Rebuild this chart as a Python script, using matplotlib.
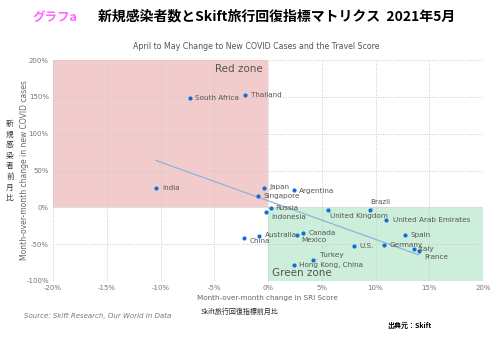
import matplotlib.pyplot as plt
import numpy as np

countries = ['South Africa', 'Thailand', 'India', 'Japan', 'Argentina', 'Singapore',
             'Russia', 'Indonesia', 'United Kingdom', 'Brazil', 'United Arab Emirates',
             'Australia', 'China', 'Canada', 'Mexico', 'U.S.', 'Germany', 'Spain',
             'Italy', 'France', 'Turkey', 'Hong Kong, China']
sri_change = [-7.3, -2.1, -10.4, -0.4, 2.4, -0.9,
              0.3, -0.2, 5.6, 9.5, 11.0,
              -0.8, -2.2, 3.3, 2.7, 8.0, 10.8, 12.7,
              13.6, 14.0, 4.2, 2.4]
case_change = [148, 153, 26, 26, 24, 15,
               -1, -6, -4, -4, -17,
               -39, -42, -35, -37, -53, -51, -38,
               -57, -60, -72, -79]

# label offsets (points) and alignment
label_pos = {
    'South Africa': (4, 0, 'left'), 'Thailand': (4, 0, 'left'), 'India': (4, 0, 'left'),
    'Japan': (4, 1, 'left'), 'Argentina': (4, -1, 'left'), 'Singapore': (4, 0, 'left'),
    'Russia': (3, 0, 'left'), 'Indonesia': (4, -4, 'left'), 'United Kingdom': (1, -4, 'left'),
    'Brazil': (0, 6, 'left'), 'United Arab Emirates': (5, 0, 'left'),
    'Australia': (4, 1, 'left'), 'China': (4, -2, 'left'), 'Canada': (4, 0, 'left'),
    'Mexico': (3, -4, 'left'), 'U.S.': (4, 0, 'left'), 'Germany': (4, 0, 'left'),
    'Spain': (4, 0, 'left'), 'Italy': (3, 0, 'left'), 'France': (4, -4, 'left'),
    'Turkey': (5, 4, 'left'), 'Hong Kong, China': (4, 0, 'left'),
}
leaders = ['Indonesia', 'Brazil', 'Mexico', 'France', 'Turkey']

fig = plt.figure(figsize=(5, 3.38), dpi=100)
ax = fig.add_axes([0.106, 0.169, 0.86, 0.653])

ax.fill_between([-20, 0], 0, 200, color='#f2cbcc', zorder=0, lw=0)
ax.fill_between([0, 20], -100, 0, color='#cdeedb', zorder=0, lw=0)

ax.set_xlim(-20, 20)
ax.set_ylim(-100, 200)
ax.set_xticks(np.arange(-20, 21, 5))
ax.set_yticks(np.arange(-100, 201, 50))
ax.set_xticklabels(['%d%%' % v for v in np.arange(-20, 21, 5)])
ax.set_yticklabels(['%d%%' % v for v in np.arange(-100, 201, 50)])
ax.grid(True, linestyle=':', color='#c8c8c8', linewidth=0.7, zorder=1)
ax.set_axisbelow(True)
for s in ax.spines.values():
    s.set_visible(False)
ax.axhline(0, color='#dddddd', lw=0.6, zorder=1)
ax.tick_params(length=0, labelsize=5, labelcolor='#777777', pad=3)

x = np.array(sri_change)
y = np.array(case_change)
m, b = np.polyfit(x, y, 1)
xs = np.array([x.min(), x.max()])
ax.plot(xs, m * xs + b, color='#8db4dc', lw=0.9, zorder=2)

ax.scatter(x, y, s=9, color='#0a6fd8', zorder=3, lw=0)

for name, xv, yv in zip(countries, sri_change, case_change):
    dx, dy, ha = label_pos[name]
    if name in leaders:
        ax.annotate(name, (xv, yv), xytext=(dx, dy), textcoords='offset points',
                    ha=ha, va='center', fontsize=5.2, color='#555555',
                    arrowprops=dict(arrowstyle='-', color='#999999', lw=0.4,
                                    shrinkA=0, shrinkB=1.5))
    else:
        ax.annotate(name, (xv, yv), xytext=(dx, dy), textcoords='offset points',
                    ha=ha, va='center', fontsize=5.2, color='#555555')

ax.text(-0.5, 188, 'Red zone', ha='right', va='center', fontsize=7.5, color='#555555')
ax.text(0.4, -89, 'Green zone', ha='left', va='center', fontsize=7.5, color='#555555')

jp = ['Noto Sans CJK JP', 'DejaVu Sans']
fig.text(0.066, 0.95, 'グラフa', fontsize=9, color='#ff66ff', family=jp, va='center', weight='bold')
fig.text(0.196, 0.95, '新規感染者数とSkift旅行回復指標マトリクス  2021年5月', fontsize=10,
         family=jp, weight='bold', va='center')
fig.text(0.512, 0.861, 'April to May Change to New COVID Cases and the Travel Score',
         fontsize=5.7, color='#555555', ha='center', va='center')
fig.text(0.05, 0.497, 'Month-over-month change in new COVID cases', rotation=90,
         fontsize=5.5, color='#666666', ha='center', va='center')
for i, ch in enumerate('新規感染者前月比'):
    fig.text(0.02, 1 - (124 + i * 10.6) / 338, ch, fontsize=5.5, family=jp,
             ha='center', va='center', color='#333333')
fig.text(0.535, 0.118, 'Month-over-month change in SRI Score', fontsize=5.2,
         color='#666666', ha='center', va='center')
fig.text(0.402, 0.077, 'Skift旅行回復指標前月比', fontsize=5, family=jp,
         color='#222222', ha='left', va='center')
fig.text(0.048, 0.065, 'Source: Skift Research, Our World In Data', fontsize=5,
         style='italic', color='#777777', ha='left', va='center')
fig.text(0.774, 0.038, '出典元：Skift', fontsize=5, family=jp, weight='bold',
         ha='left', va='center')

fig.savefig('out.png', dpi=100)
